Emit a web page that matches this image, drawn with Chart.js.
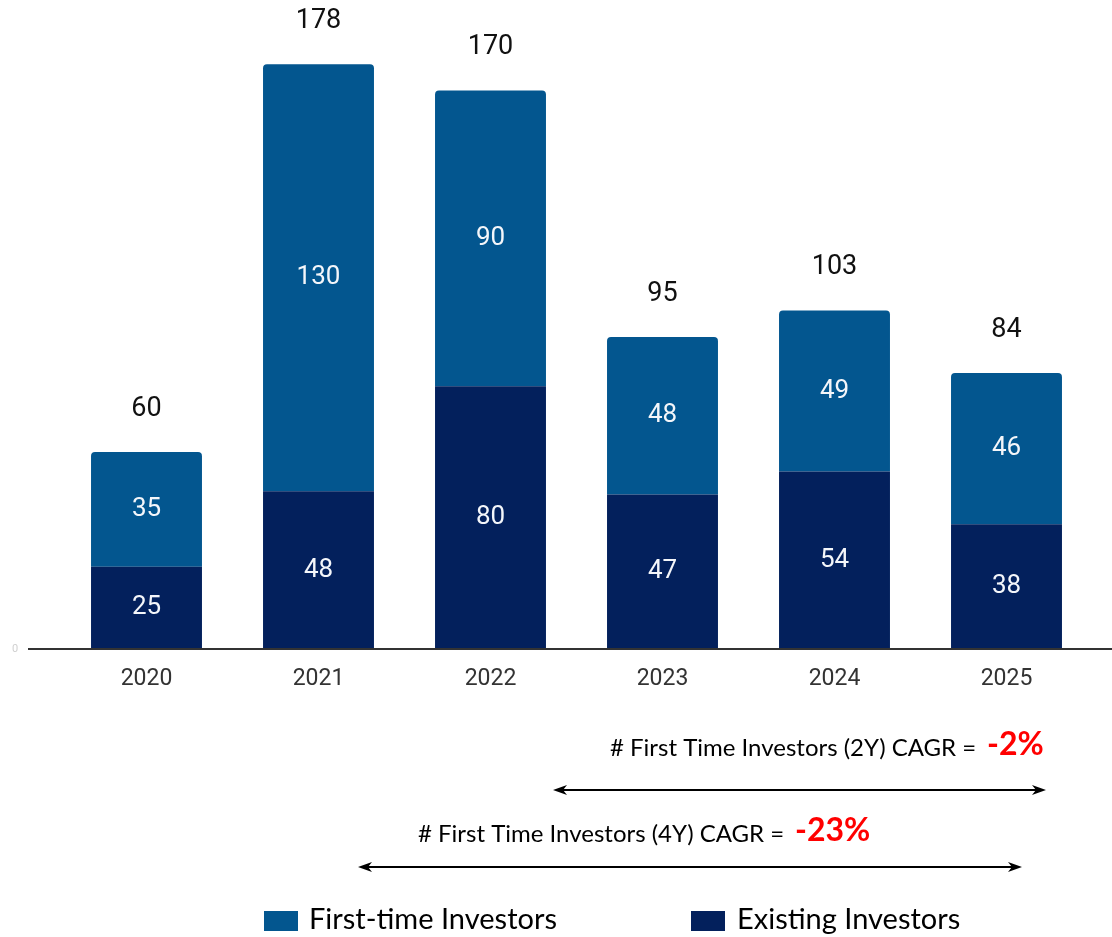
<!DOCTYPE html>
<html lang="en">
<head>
    <meta charset="UTF-8">
    <title>Investors by Year</title>
    <style>
        body { margin: 0; background: #ffffff; }
        #wrap { position: relative; width: 1112px; height: 937px; }
    </style>
</head>
<body>
    <div id="wrap">
        <canvas id="investorChart" width="1112" height="937"></canvas>
    </div>

    <script src="https://cdn.jsdelivr.net/npm/chart.js"></script>
    <script>
        // Data
        var years = ["2020", "2021", "2022", "2023", "2024", "2025"];
        var existingInvestors = [25, 48, 80, 47, 54, 38];
        var firstTimeInvestors = [35, 130, 90, 48, 49, 46];
        var totals = [60, 178, 170, 95, 103, 84];
        var cagrNotes = [
            { text: "# First Time Investors (2Y) CAGR =", value: "-2%" },
            { text: "# First Time Investors (4Y) CAGR =", value: "-23%" }
        ];

        var colorFirst = "#03568f";
        var colorExisting = "#03205c";

        function arrow(ctx, x1, x2, y) {
            ctx.save();
            ctx.strokeStyle = "#000";
            ctx.fillStyle = "#000";
            ctx.lineWidth = 2;
            ctx.beginPath();
            ctx.moveTo(x1 + 4, y);
            ctx.lineTo(x2 - 4, y);
            ctx.stroke();
            [[x1, 1], [x2, -1]].forEach(function (p) {
                ctx.beginPath();
                ctx.moveTo(p[0], y);
                ctx.lineTo(p[0] + p[1] * 14, y - 5);
                ctx.lineTo(p[0] + p[1] * 10, y);
                ctx.lineTo(p[0] + p[1] * 14, y + 5);
                ctx.closePath();
                ctx.fill();
            });
            ctx.restore();
        }

        // labels inside segments, totals on top, baseline, notes and legend
        var decorations = {
            id: "decorations",
            afterDatasetsDraw: function (chart) {
                var ctx = chart.ctx;
                var area = chart.chartArea;
                ctx.save();

                // baseline
                ctx.strokeStyle = "#333";
                ctx.lineWidth = 2;
                ctx.beginPath();
                ctx.moveTo(28, area.bottom);
                ctx.lineTo(1112, area.bottom);
                ctx.stroke();
                ctx.fillStyle = "#d0d0d0";
                ctx.font = "11px Roboto";
                ctx.textAlign = "center";
                ctx.textBaseline = "middle";
                ctx.fillText("0", 15, area.bottom);

                // segment values
                ctx.font = "26px Roboto";
                ctx.fillStyle = "#f4f6fa";
                chart.data.datasets.forEach(function (ds, i) {
                    chart.getDatasetMeta(i).data.forEach(function (bar, j) {
                        ctx.fillText(ds.data[j], bar.x, (bar.y + bar.base) / 2);
                    });
                });

                // totals with white halo
                var topMeta = chart.getDatasetMeta(1);
                ctx.lineJoin = "round";
                ctx.font = "27px Roboto";
                topMeta.data.forEach(function (bar, j) {
                    ctx.strokeStyle = "#ffffff";
                    ctx.lineWidth = 5;
                    ctx.strokeText(totals[j], bar.x, bar.y - 43);
                    ctx.fillStyle = "#111";
                    ctx.fillText(totals[j], bar.x, bar.y - 43);
                });

                // CAGR notes
                ctx.textAlign = "left";
                ctx.textBaseline = "middle";
                ctx.fillStyle = "#000";
                ctx.font = "24px Lato";
                ctx.fillText(cagrNotes[0].text, 610, 748);
                ctx.fillText(cagrNotes[1].text, 418, 834);
                ctx.fillStyle = "#ff0000";
                ctx.font = "bold 32px Lato";
                ctx.fillText(cagrNotes[0].value, 987, 745);
                ctx.fillText(cagrNotes[1].value, 795, 831);
                arrow(ctx, 553, 1046, 790);
                arrow(ctx, 358, 1022, 867);

                // legend
                ctx.font = "29px Lato";
                ctx.fillStyle = colorFirst;
                ctx.fillRect(264, 911, 34, 20);
                ctx.fillStyle = colorExisting;
                ctx.fillRect(691, 911, 34, 20);
                ctx.fillStyle = "#000";
                ctx.fillText("First-time Investors", 309, 920);
                ctx.fillText("Existing Investors", 737, 920);

                ctx.restore();
            }
        };

        var ctx = document.getElementById("investorChart").getContext("2d");
        new Chart(ctx, {
            type: "bar",
            data: {
                labels: years,
                datasets: [{
                    label: "Existing Investors",
                    data: existingInvestors,
                    backgroundColor: colorExisting,
                    borderRadius: 0
                }, {
                    label: "First-time Investors",
                    data: firstTimeInvestors,
                    backgroundColor: colorFirst,
                    borderRadius: { topLeft: 4, topRight: 4 },
                    borderSkipped: false
                }]
            },
            options: {
                responsive: false,
                animation: false,
                devicePixelRatio: 1,
                layout: {
                    padding: { left: 60.5, right: 19.5, top: 24.8, bottom: 228.4 }
                },
                datasets: {
                    bar: { barPercentage: 1, categoryPercentage: 0.645 }
                },
                scales: {
                    x: {
                        stacked: true,
                        grid: { display: false, drawTicks: false },
                        border: { display: false },
                        ticks: {
                            padding: 16,
                            color: "#333",
                            font: { family: "Roboto", size: 23 }
                        }
                    },
                    y: {
                        stacked: true,
                        display: false,
                        min: 0,
                        max: 190
                    }
                },
                plugins: {
                    legend: { display: false },
                    tooltip: { enabled: false }
                }
            },
            plugins: [decorations]
        });
    </script>
</body>
</html>
